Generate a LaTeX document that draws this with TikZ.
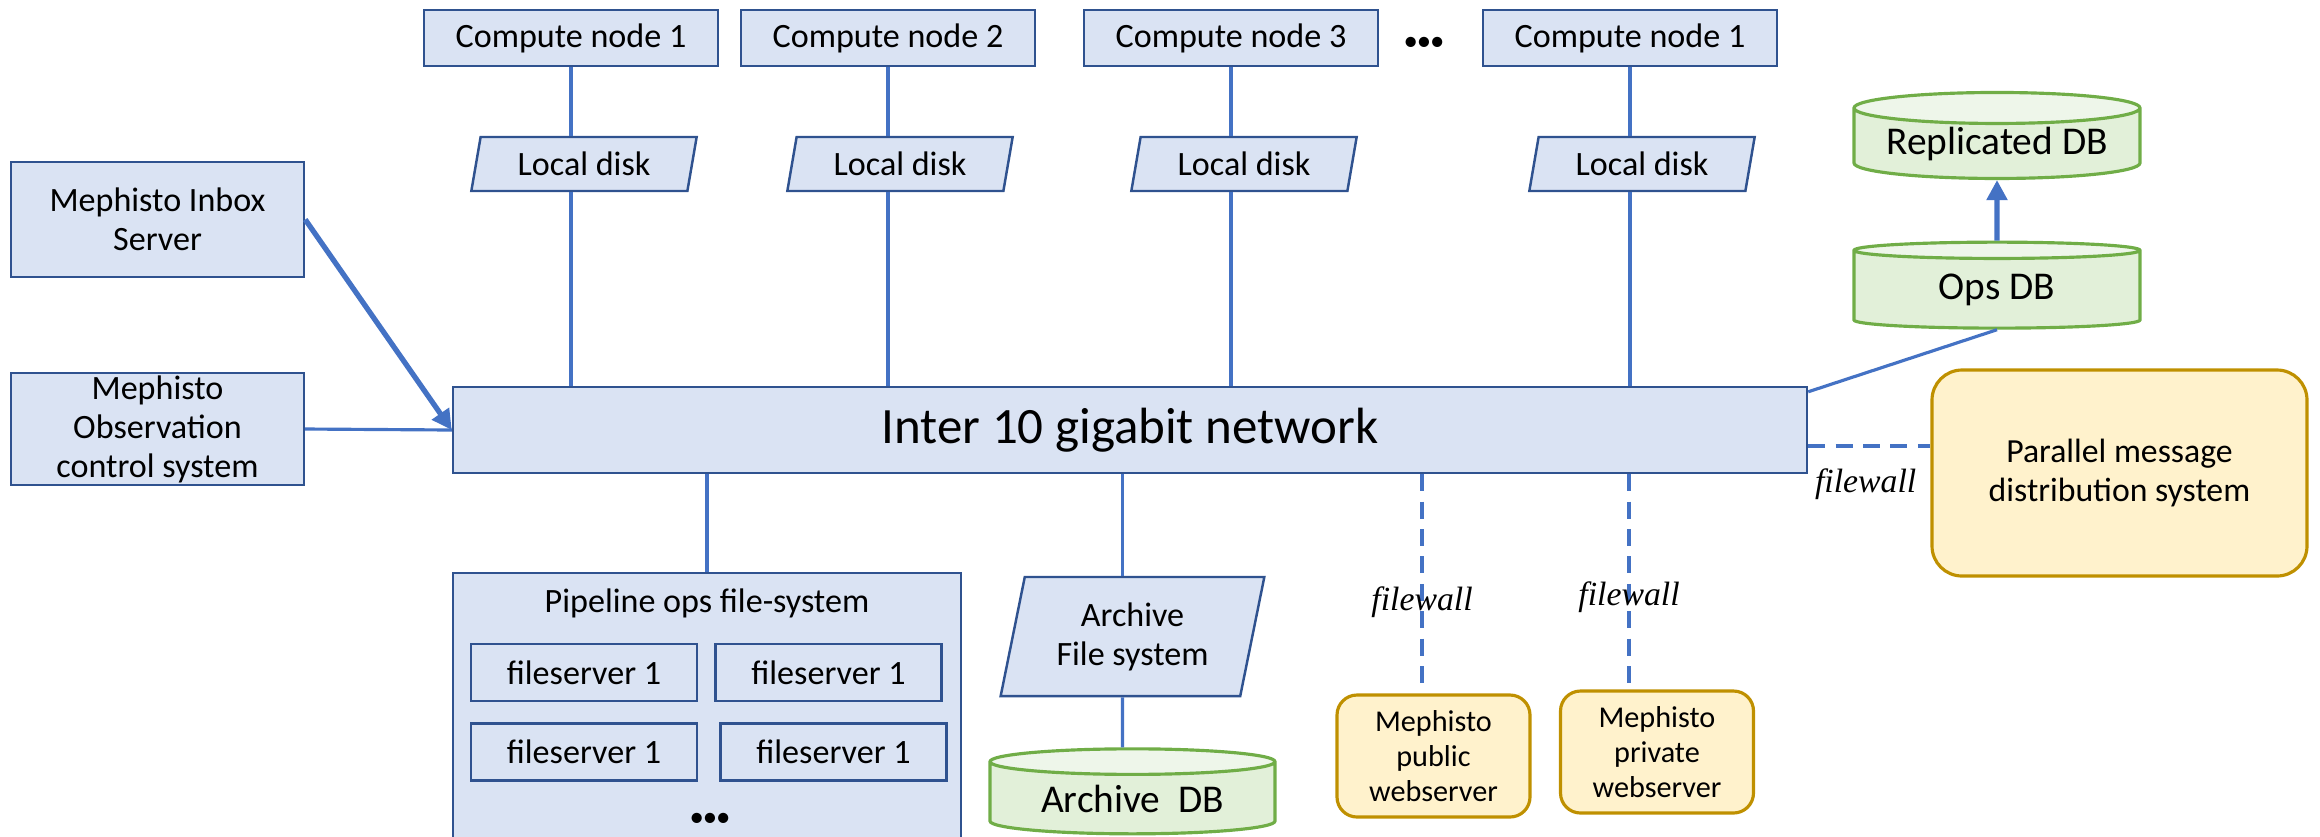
\documentclass[tikz,border=0pt]{standalone}
\usepackage{fontspec}
\setmainfont{Carlito}
\newfontfamily\fwfont{Liberation Serif}
\usetikzlibrary{shapes.geometric,arrows.meta}

\definecolor{boxfill}{HTML}{DAE3F3}
\definecolor{boxline}{HTML}{2F528F}
\definecolor{linkblue}{HTML}{4472C4}
\definecolor{dbfill}{HTML}{E2F0D9}
\definecolor{dbtop}{HTML}{EEF6EA}
\definecolor{dbline}{HTML}{70AD47}
\definecolor{wsfill}{HTML}{FFF2CC}
\definecolor{wsline}{HTML}{BF9000}

\newcommand{\moredots}{{\fontsize{8.2}{8.2}\selectfont\textbullet\kern-0.3pt\textbullet\kern-0.3pt\textbullet}}

\tikzset{
  box/.style={draw=boxline, fill=boxfill, line width=0.7pt, align=center, inner sep=0pt,
    font=\fontsize{9.7}{11.1}\selectfont},
  compute/.style={box, minimum width=2.94cm, minimum height=0.56cm},
  disk/.style={box, trapezium, trapezium left angle=76, trapezium right angle=104,
    trapezium stretches=true, minimum width=2.26cm, minimum height=0.54cm},
  fsrv/.style={box, minimum width=2.26cm, minimum height=0.57cm},
  db/.style={cylinder, shape border rotate=90, aspect=0.14, draw=dbline, line width=0.9pt,
    cylinder uses custom fill, cylinder body fill=dbfill, cylinder end fill=dbtop,
    minimum width=2.86cm, minimum height=0.86cm, inner sep=0pt,
    font=\fontsize{11.2}{13}\selectfont},
  msg/.style={draw=wsline, fill=wsfill, line width=0.9pt, rounded corners=3mm, align=center,
    inner sep=0pt, font=\fontsize{9.6}{11.2}\selectfont},
  web/.style={msg, rounded corners=2mm, minimum width=1.93cm, minimum height=1.22cm,
    font=\fontsize{8.6}{10}\selectfont},
  link/.style={draw=linkblue, line width=0.9pt},
  thicklink/.style={link, line width=1.5pt, -{Triangle[length=2mm, width=2mm]}},
  fwlink/.style={link, line width=1.1pt, dash pattern=on 4.8pt off 3pt},
  fwlabel/.style={font=\fwfont\itshape\fontsize{9.6}{11}\selectfont, inner sep=1pt},
}

\begin{document}
\begin{tikzpicture}[y=-1cm]
  \path[use as bounding box, clip] (0,0) rectangle (23.2,8.36);

  % compute nodes and their disks
  \node[compute] (cn1) at (5.71,0.38) {Compute node 1};
  \node[compute] (cn2) at (8.88,0.38) {Compute node 2};
  \node[compute] (cn3) at (12.31,0.38) {Compute node 3};
  \node[compute] (cn4) at (16.30,0.38) {Compute node 1};
  \node (cdots) at (14.24,0.44) {\moredots};
  \node[disk] (ld1) at (5.84,1.64) {Local disk};
  \node[disk] (ld2) at (9.00,1.64) {Local disk};
  \node[disk] (ld3) at (12.44,1.64) {Local disk};
  \node[disk] (ld4) at (16.42,1.64) {Local disk};

  % network and the servers round it
  \node[box, minimum width=13.54cm, minimum height=0.86cm, font=\fontsize{14.5}{16}\selectfont]
    (net) at (11.30,4.30) {Inter 10 gigabit network};
  \node[box, minimum width=2.93cm, minimum height=1.15cm] (inbox) at (1.575,2.195)
    {Mephisto Inbox\\Server};
  \node[box, minimum width=2.93cm, minimum height=1.12cm] (obs) at (1.575,4.29)
    {Mephisto\\Observation\\control system};

  % pipeline file system
  \node[box, minimum width=5.08cm, minimum height=3cm, anchor=north] (pipe) at (7.07,5.72) {};
  \node[font=\fontsize{9.7}{11}\selectfont] (pipetitle) at (7.07,6.03) {Pipeline ops file-system};
  \node[fsrv] (fs1) at (5.84,6.725) {fileserver 1};
  \node[fsrv] (fs2) at (8.285,6.725) {fileserver 1};
  \node[fsrv] (fs3) at (5.84,7.52) {fileserver 1};
  \node[fsrv] (fs4) at (8.335,7.52) {fileserver 1};
  \node (pdots) at (7.10,8.20) {\moredots};

  % archive
  \node[disk, minimum width=2.65cm, minimum height=1.19cm] (afs) at (11.325,6.365)
    {Archive\\File system};
  \node[db, minimum width=2.85cm, minimum height=0.85cm] (adb) at (11.325,7.985) {Archive\ \ DB};

  % databases, messages, webservers
  \node[db] (opsdb) at (19.97,2.90) {Ops DB};
  \node[db] (repdb) at (19.97,1.44) {Replicated DB};
  \node[msg, minimum width=3.75cm, minimum height=2.06cm] (pmd) at (21.195,4.73)
    {Parallel message\\distribution system};
  \node[web] (pubws) at (14.335,7.56) {Mephisto\\public\\webserver};
  \node[web] (privws) at (16.57,7.52) {Mephisto\\private\\webserver};

  % connectors
  \foreach \i in {1,...,4} {
    \draw[link] (cn\i.south) -- (cn\i |- ld\i.north);
    \draw[link] (cn\i |- ld\i.south) -- (cn\i |- net.north);
  }
  \draw[thicklink] (inbox.east) -- (net.west);
  \draw[link] (obs.east) -- (net.west);
  \draw[link] (pipe.north |- net.south) -- (pipe.north);
  \draw[link] ([xshift=-1mm]afs.center |- net.south) -- ([xshift=-1mm]afs.center |- afs.north);
  \draw[link] ([xshift=-1mm]afs.center |- afs.south) -- ([xshift=-1mm]adb.north);
  \draw[link] ([yshift=-0.6mm]net.north east) -- (opsdb.south);
  \draw[thicklink] (opsdb.north) -- (repdb.south);
  \draw[fwlink] ([yshift=-1.6mm]net.east) -- ([yshift=-1.6mm]net.east -| pmd.west)
    node[fwlabel, pos=0.47, below=1.7mm] {filewall};
  \draw[fwlink] ([xshift=-1.15mm]pubws.north |- net.south)
    -- node[fwlabel, pos=0.61] {filewall} ([xshift=-1.15mm, yshift=1mm]pubws.north);
  \draw[fwlink] ([xshift=-2.8mm]privws.north |- net.south)
    -- node[fwlabel, pos=0.59] {filewall} ([xshift=-2.8mm, yshift=0.6mm]privws.north);
\end{tikzpicture}
\end{document}
